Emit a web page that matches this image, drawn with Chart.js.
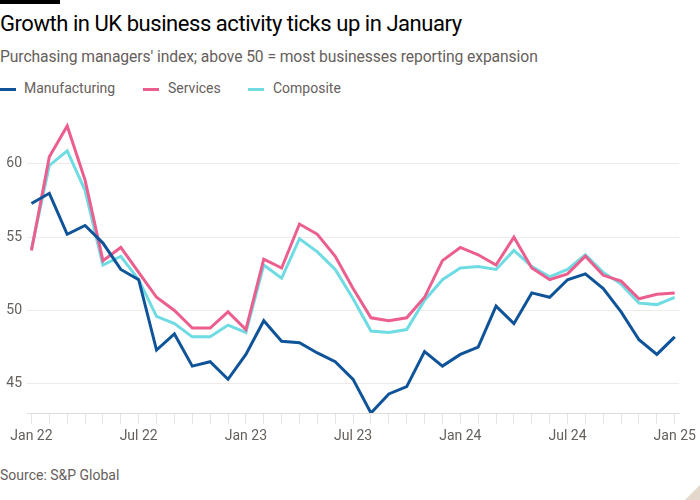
<!DOCTYPE html>
<html>
<head>
<meta charset="utf-8">
<script src="https://cdn.jsdelivr.net/npm/chart.js@4"></script>
<style>
  body { margin: 0; background: #fff; width: 700px; height: 500px; position: relative; overflow: hidden; font-family: Roboto, "Noto Sans", sans-serif; }
  #bar { position: absolute; left: 0; top: 0; width: 60px; height: 4px; background: #000; }
  #title { position: absolute; left: 0; top: 11px; font-size: 22px; color: #000; letter-spacing: -0.45px; white-space: nowrap; }
  #subtitle { position: absolute; left: 0; top: 47px; font-size: 15.7px; color: #66605c; letter-spacing: -0.1px; white-space: nowrap; }
  #legend { position: absolute; left: 0; top: 80px; font-size: 14px; color: #66605c; white-space: nowrap; }
  .item { position: absolute; top: 0; }
  .mark { position: absolute; top: 8px; width: 16px; height: 3px; }
  .label { position: absolute; top: 0; }
  #wrap { position: absolute; left: 0; top: 92px; width: 700px; height: 358px; }
  #source { position: absolute; left: 0; top: 467px; font-size: 14px; color: #66605c; }
  #curl { position: absolute; right: 0; bottom: 0; width: 0; height: 0; border-left: 15px solid transparent; border-bottom: 15px solid #e4d8cd; }
</style>
</head>
<body>
<div id="bar"></div>
<div id="title">Growth in UK business activity ticks up in January</div>
<div id="subtitle">Purchasing managers' index; above 50 = most businesses reporting expansion</div>
<div id="legend">
  <div class="item" style="left:0"><div class="mark" style="background:#0f5499"></div><div class="label" style="left:24px">Manufacturing</div></div>
  <div class="item" style="left:143px"><div class="mark" style="background:#eb5e8d"></div><div class="label" style="left:25px">Services</div></div>
  <div class="item" style="left:248px"><div class="mark" style="background:#6fdbe3"></div><div class="label" style="left:25px">Composite</div></div>
</div>
<div id="wrap"><canvas id="chart"></canvas></div>
<div id="source">Source: S&amp;P Global</div>
<div id="curl"></div>

<script>
// Monthly PMI readings, Jan 2022 .. Jan 2025
const tickLabels = ["Jan 22", "Jul 22", "Jan 23", "Jul 23", "Jan 24", "Jul 24", "Jan 25"];

const manufacturing = [
  57.3, 58.0, 55.2, 55.8, 54.6, 52.8, 52.1, 47.3, 48.4, 46.2, 46.5, 45.3,
  47.0, 49.3, 47.9, 47.8, 47.1, 46.5, 45.3, 43.0, 44.3, 44.8, 47.2, 46.2,
  47.0, 47.5, 50.3, 49.1, 51.2, 50.9, 52.1, 52.5, 51.5, 49.9, 48.0, 47.0,
  48.2
];
const services = [
  54.1, 60.5, 62.6, 58.9, 53.4, 54.3, 52.6, 50.9, 50.0, 48.8, 48.8, 49.9,
  48.7, 53.5, 52.9, 55.9, 55.2, 53.7, 51.5, 49.5, 49.3, 49.5, 50.9, 53.4,
  54.3, 53.8, 53.1, 55.0, 52.9, 52.1, 52.5, 53.7, 52.4, 52.0, 50.8, 51.1,
  51.2
];
const composite = [
  54.2, 59.9, 60.9, 58.2, 53.1, 53.7, 52.1, 49.6, 49.1, 48.2, 48.2, 49.0,
  48.5, 53.1, 52.2, 54.9, 54.0, 52.8, 50.8, 48.6, 48.5, 48.7, 50.7, 52.1,
  52.9, 53.0, 52.8, 54.1, 53.0, 52.3, 52.8, 53.8, 52.6, 51.8, 50.5, 50.4,
  50.9
];
const yTicks = [45, 50, 55, 60];

const toPoints = (arr) => arr.map((v, i) => ({ x: i, y: v }));

const ctx = document.getElementById("chart");

new Chart(ctx, {
  type: "line",
  data: {
    datasets: [
      { label: "Manufacturing", data: toPoints(manufacturing), borderColor: "#0f5499", order: 0 },
      { label: "Services", data: toPoints(services), borderColor: "#eb5e8d", order: 1 },
      { label: "Composite", data: toPoints(composite), borderColor: "#6fdbe3", order: 2 }
    ]
  },
  options: {
    responsive: true,
    maintainAspectRatio: false,
    animation: false,
    layout: { padding: { top: 3, right: 20, left: 0, bottom: 0 } },
    elements: {
      line: { borderWidth: 3, tension: 0, fill: false },
      point: { radius: 0, hoverRadius: 0 }
    },
    plugins: {
      legend: { display: false },
      tooltip: { enabled: false }
    },
    scales: {
      x: {
        type: "linear",
        min: -0.25,
        max: 36.25,
        afterBuildTicks: (scale) => {
          scale.ticks = [];
          for (let i = 0; i <= 36; i++) scale.ticks.push({ value: i });
        },
        afterFit: (scale) => { scale.height = 37; },
        ticks: {
          autoSkip: false,
          maxRotation: 0,
          padding: 4,
          color: "#66605c",
          font: { family: "Roboto", size: 14 },
          callback: (value) => (value % 6 === 0 ? tickLabels[value / 6] : "")
        },
        grid: {
          drawOnChartArea: false,
          drawTicks: true,
          tickLength: 11,
          color: "#e7e2dd"
        },
        border: { display: true, color: "#e2ddd8", width: 1 }
      },
      y: {
        min: 43,
        max: 64,
        afterBuildTicks: (scale) => {
          scale.ticks = yTicks.map((v) => ({ value: v }));
        },
        afterFit: (scale) => { scale.width = 27; },
        ticks: {
          padding: 5,
          color: "#66605c",
          font: { family: "Roboto", size: 14 }
        },
        grid: {
          drawTicks: false,
          color: "#efeae6"
        },
        border: { display: false }
      }
    }
  }
});
</script>
</body>
</html>
